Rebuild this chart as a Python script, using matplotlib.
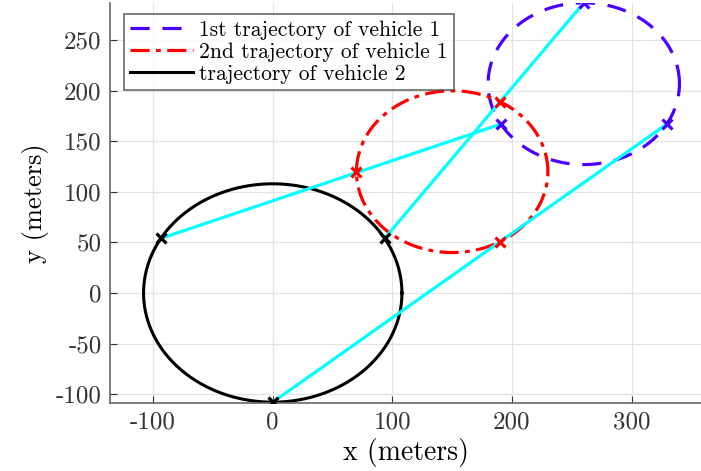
import numpy as np
import matplotlib.pyplot as plt

plt.rcParams['font.family'] = ['cmr10', 'DejaVu Serif']
plt.rcParams['axes.unicode_minus'] = False
plt.rcParams['mathtext.fontset'] = 'cm'

# circle trajectories: centre x, centre y, radius
veh2_c = (0, 0)
veh2_r = 108
veh1a_c = (260, 207)
veh1a_r = 80
veh1b_c = (150, 120)
veh1b_r = 80

# crossing marks (degrees on each circle)
veh2_ang = [150, 30, 270]
veh1b_ang = [180, 60, -60]
veh1a_ang = [210, 90, 330]

labels = ['1st trajectory of vehicle 1', '2nd trajectory of vehicle 1', 'trajectory of vehicle 2']


def circ(c, r, a):
    a = np.radians(a)
    return c[0] + r * np.cos(a), c[1] + r * np.sin(a)


fig = plt.figure(figsize=(7.01, 4.71), dpi=100)
ax = fig.add_axes([0.157, 0.144, 0.843, 0.85])

t = np.linspace(0, 360, 400)
blue = '#4a00ff'
x, y = circ(veh1a_c, veh1a_r, t)
ax.plot(x, y, color=blue, ls=(0, (6, 4)), lw=2.3, label=labels[0])
x, y = circ(veh1b_c, veh1b_r, t)
ax.plot(x, y, color='red', ls=(0, (6, 2, 1.5, 2)), lw=2.3, label=labels[1])
x, y = circ(veh2_c, veh2_r, t)
ax.plot(x, y, color='black', lw=2.2, label=labels[2])

# connecting lines: vehicle 2 -> 2nd traj -> 1st traj
for i in range(3):
    p0 = circ(veh2_c, veh2_r, veh2_ang[i])
    p2 = circ(veh1a_c, veh1a_r, veh1a_ang[i])
    ax.plot([p0[0], p2[0]], [p0[1], p2[1]], color='cyan', lw=2.3, zorder=3)

for c, r, a, col in [(veh2_c, veh2_r, veh2_ang, 'black'),
                     (veh1b_c, veh1b_r, veh1b_ang, 'red'),
                     (veh1a_c, veh1a_r, veh1a_ang, blue)]:
    x, y = circ(c, r, np.array(a))
    ax.plot(x, y, 'x', color=col, ms=7, mew=2.3, zorder=4)

ax.set_xlim(-136, 358)
ax.set_ylim(-109, 287)
ax.set_xticks([-100, 0, 100, 200, 300])
ax.set_yticks(range(-100, 251, 50))
ax.grid(True, color='#e3e3e3', lw=0.9)
ax.set_axisbelow(True)
ax.tick_params(direction='in', labelsize=18, colors='#333333', length=5, pad=6)
for s in ['top', 'right']:
    ax.spines[s].set_visible(False)
for s in ['left', 'bottom']:
    ax.spines[s].set_color('#666666')
    ax.spines[s].set_linewidth(1.2)
ax.set_xlabel('x (meters)', fontsize=20, labelpad=3)
ax.set_ylabel('y (meters)', fontsize=19, labelpad=5)

leg = ax.legend(loc='upper left', fontsize=15.5, frameon=True, fancybox=False,
                edgecolor='#444444', borderpad=0.3, labelspacing=0.12,
                handlelength=2.9, handletextpad=0.3, borderaxespad=0.5,
                bbox_to_anchor=(0.005, 1.0))
leg.get_frame().set_linewidth(1.2)

fig.savefig('out.png', dpi=100)
